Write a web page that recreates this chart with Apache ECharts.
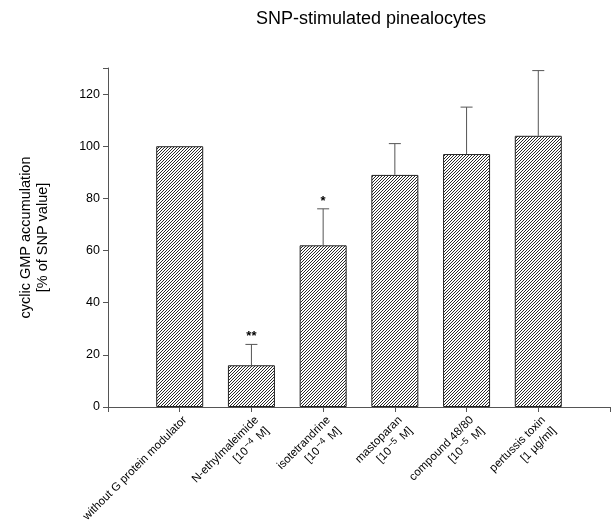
<!DOCTYPE html>
<html><head><meta charset="utf-8">
<script src="https://cdn.jsdelivr.net/npm/echarts@6/dist/echarts.min.js"></script>
<style>html,body{margin:0;padding:0;background:#fff}#c{width:614px;height:528px}</style>
</head><body><div id="c"></div>
<script>
const categories = ['', 'without G protein modulator', 'N-ethylmaleimide', 'isotetrandrine', 'mastoparan', 'compound 48/80', 'pertussis toxin', ''];
const subLabels = ['', '', '[10{sup|\u22124} M]', '[10{sup|\u22124} M]', '[10{sup|\u22125} M]', '[10{sup|\u22125} M]', '[1 \u00b5g/ml]', ''];
const values = [null, 100, 16, 62, 89, 97, 104, null];
const errorTops = [null, null, 24, 76, 101, 115, 129, null];
const stars = ['', '', '**', '*', '', '', '', ''];
const yTicks = [0, 20, 40, 60, 80, 100, 120];

const pc = document.createElement('canvas');
pc.width = 3; pc.height = 3;
const g = pc.getContext('2d');
g.fillStyle = '#fff'; g.fillRect(0,0,3,3);
g.strokeStyle = '#2a2a2a'; g.lineWidth = 1;
g.beginPath();
g.moveTo(-1,4); g.lineTo(4,-1);
g.moveTo(-1,1); g.lineTo(1,-1);
g.moveTo(2,4); g.lineTo(4,2);
g.stroke();

const chart = echarts.init(document.getElementById('c'));
const errData = [];
categories.forEach((c,i)=>{ if (errorTops[i]!=null) errData.push([i, values[i], errorTops[i], stars[i]]); });
const FF = 'Liberation Sans, Arial';

chart.setOption({
  animation:false,
  title:{text:'SNP-stimulated pinealocytes', left:366, top:5, textAlign:'center',
    textStyle:{fontFamily:FF, fontSize:18, fontWeight:'normal', color:'#000'}},
  grid:{left:108, right:4, top:68, bottom:121},
  xAxis:{type:'category', data:categories, boundaryGap:false,
    axisLine:{lineStyle:{color:'#555', width:1}},
    axisTick:{show:true, length:5, lineStyle:{color:'#555'}},
    axisLabel:{interval:0, rotate:45, margin:6, color:'#000', fontFamily:FF, fontSize:11.5, lineHeight:15,
      align:'right', verticalAlign:'top',
      formatter:(v, i)=> subLabels[i] ? v + '\n' + subLabels[i] : v,
      rich:{sup:{fontSize:9, verticalAlign:'top', padding:[0,2,5,1], fontFamily:FF, color:'#000'}}}},
  yAxis:{type:'value', min:0, max:130, interval:20,
    name:'cyclic GMP accumulation\n[% of SNP value]', nameLocation:'middle', nameGap:57, nameRotate:90,
    nameTextStyle:{fontFamily:FF, fontSize:14.5, color:'#000', lineHeight:17},
    axisLine:{show:true, lineStyle:{color:'#555'}},
    axisTick:{show:true, length:5, lineStyle:{color:'#555'}},
    splitLine:{show:false},
    axisLabel:{color:'#000', fontFamily:FF, fontSize:12.5, margin:8,
      formatter:v=> yTicks.includes(v) ? String(v) : ''}},
  series:[
    {type:'bar', data:values, barWidth:47,
      itemStyle:{color:{image:pc, repeat:'repeat'}, borderColor:'#222', borderWidth:1}},
    {type:'custom', data:errData, z:1,
      renderItem:(params, api)=>{
        const base = api.coord([api.value(0), api.value(1)]);
        const top = api.coord([api.value(0), api.value(2)]);
        const star = errData[params.dataIndex][3];
        const children = [
          {type:'line', shape:{x1:base[0], y1:base[1], x2:top[0], y2:top[1]}, style:{stroke:'#555', lineWidth:1}},
          {type:'line', shape:{x1:top[0]-6, y1:top[1], x2:top[0]+6, y2:top[1]}, style:{stroke:'#555', lineWidth:1}}
        ];
        if (star) children.push({type:'text', x:top[0], y:top[1]-1, style:{text:star, textAlign:'center', textVerticalAlign:'bottom', fontSize:13, fontWeight:'bold', fill:'#000', fontFamily:FF}});
        return {type:'group', children};
      }}
  ]
});
</script></body></html>
